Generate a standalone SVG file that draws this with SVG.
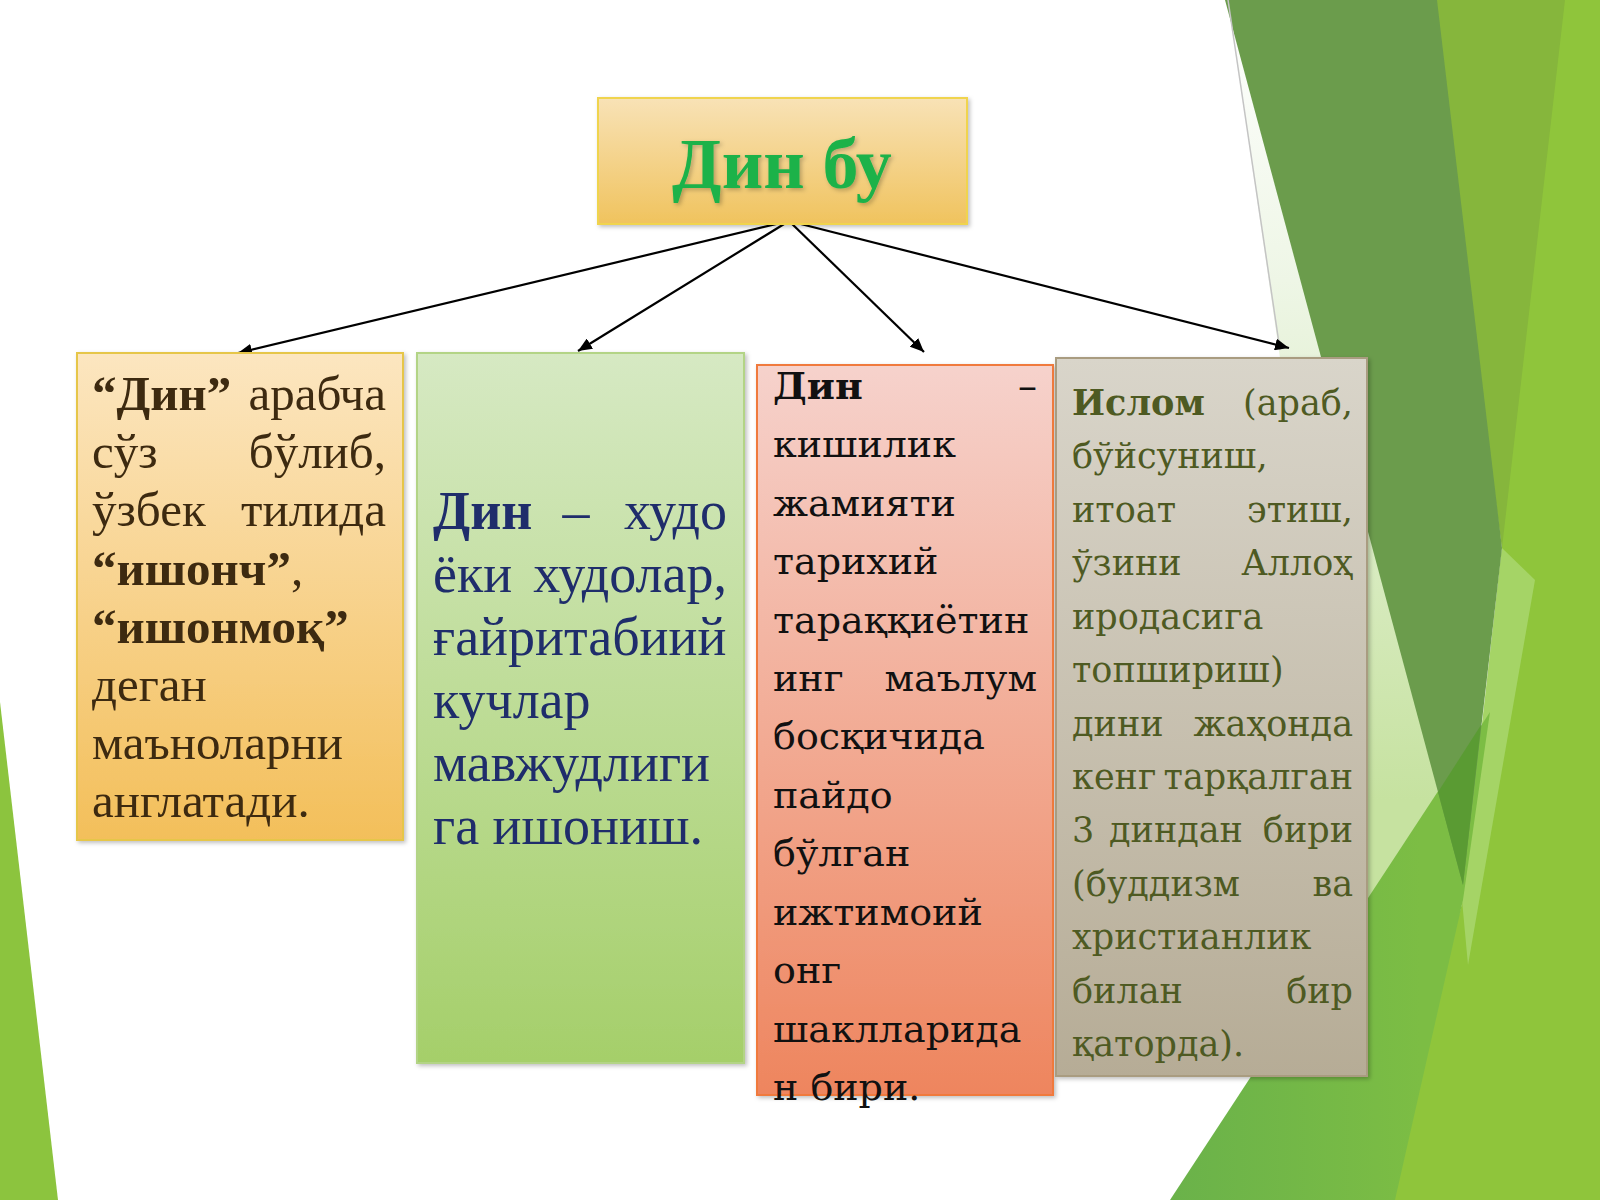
<svg xmlns="http://www.w3.org/2000/svg" width="1600" height="1200" viewBox="0 0 1600 1200">
<defs>
<style>
.b1{font-family:"Liberation Serif",serif;font-size:49px;fill:#3d2a10}
.b2{font-family:"Liberation Serif",serif;font-size:54px;fill:#1f2d6b}
.b3{font-family:"DejaVu Serif",serif;font-size:38px;fill:#111111}
.b4{font-family:"DejaVu Serif",serif;font-size:35px;fill:#4e5a22}
.bold{font-weight:bold}
.end{text-anchor:end}
.mid{text-anchor:middle}
.conn{stroke:#000;stroke-width:2.2;fill:none;marker-end:url(#arr)}
</style>
<marker id="arr" markerUnits="userSpaceOnUse" markerWidth="16" markerHeight="12" refX="14" refY="6" orient="auto">
<path d="M0,0 L14,6 L0,12 z" fill="#000"/>
</marker>
<linearGradient id="gTitle" x1="0" y1="0" x2="0" y2="1">
<stop offset="0" stop-color="#f8e2b6"/><stop offset="1" stop-color="#f0c35e"/>
</linearGradient>
<linearGradient id="g1" x1="0" y1="0" x2="0" y2="1">
<stop offset="0" stop-color="#fce6c0"/><stop offset="1" stop-color="#f3bf5a"/>
</linearGradient>
<linearGradient id="g2" x1="0" y1="0" x2="0" y2="1">
<stop offset="0" stop-color="#d6e9c3"/><stop offset="1" stop-color="#a5cf6a"/>
</linearGradient>
<linearGradient id="g3" x1="0" y1="0" x2="0" y2="1">
<stop offset="0" stop-color="#f6d2cc"/><stop offset="1" stop-color="#ee855e"/>
</linearGradient>
<linearGradient id="g4" x1="0" y1="0" x2="0" y2="1">
<stop offset="0" stop-color="#d9d5ca"/><stop offset="1" stop-color="#b6ac96"/>
</linearGradient>
<linearGradient id="gPale" gradientUnits="userSpaceOnUse" x1="0" y1="0" x2="0" y2="800">
<stop offset="0" stop-color="#ffffff"/><stop offset="0.35" stop-color="#eef6e6"/><stop offset="1" stop-color="#c6e2a0"/>
</linearGradient>
<linearGradient id="gMed" gradientUnits="userSpaceOnUse" x1="1170" y1="0" x2="1420" y2="0">
<stop offset="0" stop-color="#6ab24a"/><stop offset="1" stop-color="#7cbd44"/>
</linearGradient>
<filter id="sh" x="-10%" y="-10%" width="120%" height="120%">
<feDropShadow dx="2" dy="2" stdDeviation="2" flood-color="#000" flood-opacity="0.25"/>
</filter>
</defs>

<g id="background">
<rect x="0" y="0" width="1600" height="1200" fill="#ffffff"/>
<polygon points="0,702 58,1200 0,1200" fill="#8cc43e"/>
<polygon points="1430,0 1600,0 1600,1200 1380,1200 1463,900 1502,548" fill="#8fc53b"/>
<polygon points="1430,0 1565,0 1502,548" fill="#86b63c"/>
<polygon points="1502,548 1535,580 1468,965 1462,900" fill="#a5d466"/>
<polygon points="1228,0 1395,1150 1440,792 1225,0" fill="url(#gPale)"/>
<polygon points="1170,1200 1490,712 1463,900 1395,1200" fill="url(#gMed)"/>
<polygon points="1225,0 1437,0 1502,548 1463,885" fill="#6b9c4c"/>
<polygon points="1438,792 1481,725 1463,885" fill="#5a9b33"/>
<line x1="1228" y1="0" x2="1280" y2="350" stroke="#c4c4c4" stroke-width="1.5"/>
</g>

<g id="connectors">
<line class="conn" x1="789" y1="221" x2="238" y2="353"/>
<line class="conn" x1="789" y1="221" x2="578" y2="351"/>
<line class="conn" x1="789" y1="221" x2="924" y2="352"/>
<line class="conn" x1="789" y1="221" x2="1289" y2="348"/>
</g>

<g id="title">
<rect x="598" y="98" width="369" height="126" fill="url(#gTitle)" stroke="#f0d44e" stroke-width="2" filter="url(#sh)"/>
<text x="782" y="188" class="mid" font-family="Liberation Serif, serif" font-size="72" font-weight="bold" fill="#1fb24a" filter="url(#sh)">Дин бу</text>
</g>

<g id="box1">
<rect x="77" y="353" width="326" height="487" fill="url(#g1)" stroke="#e6c64a" stroke-width="2" filter="url(#sh)"/>
<text class="b1" x="92" y="410"><tspan class="bold">“Дин”</tspan></text>
<text class="b1 end" x="386" y="410">арабча</text>
<text class="b1" x="92" y="468">сўз</text>
<text class="b1 end" x="386" y="468">бўлиб,</text>
<text class="b1" x="92" y="526">ўзбек</text>
<text class="b1 end" x="386" y="526">тилида</text>
<text class="b1" x="92" y="585"><tspan class="bold">“ишонч”</tspan>,</text>
<text class="b1 bold" x="92" y="643">“ишонмоқ”</text>
<text class="b1" x="92" y="701">деган</text>
<text class="b1" x="92" y="759">маъноларни</text>
<text class="b1" x="92" y="817">англатади.</text>
</g>

<g id="box2">
<rect x="417" y="353" width="327" height="710" fill="url(#g2)" stroke="#b3d486" stroke-width="2" filter="url(#sh)"/>
<text class="b2 bold" x="433" y="529">Дин</text>
<text class="b2 mid" x="576" y="529">–</text>
<text class="b2 end" x="727" y="529">худо</text>
<text class="b2" x="433" y="592">ёки</text>
<text class="b2 end" x="727" y="592">худолар,</text>
<text class="b2" x="433" y="655">ғайритабиий</text>
<text class="b2" x="433" y="718">кучлар</text>
<text class="b2" x="433" y="781">мавжудлиги</text>
<text class="b2" x="433" y="844">га ишониш.</text>
</g>

<g id="box3">
<rect x="757" y="365" width="296" height="730" fill="url(#g3)" stroke="#f07a3c" stroke-width="2" filter="url(#sh)"/>
<text class="b3 bold" x="773" y="399">Дин</text>
<text class="b3 end" x="1037" y="399">–</text>
<text class="b3" x="773" y="457">кишилик</text>
<text class="b3" x="773" y="516">жамияти</text>
<text class="b3" x="773" y="574">тарихий</text>
<text class="b3" x="773" y="633">тараққиётин</text>
<text class="b3" x="773" y="691">инг</text>
<text class="b3 end" x="1037" y="691">маълум</text>
<text class="b3" x="773" y="749">босқичида</text>
<text class="b3" x="773" y="808">пайдо</text>
<text class="b3" x="773" y="866">бўлган</text>
<text class="b3" x="773" y="925">ижтимоий</text>
<text class="b3" x="773" y="983">онг</text>
<text class="b3" x="773" y="1042">шаклларида</text>
<text class="b3" x="773" y="1100">н бири.</text>
</g>

<g id="box4">
<rect x="1056" y="358" width="311" height="718" fill="url(#g4)" stroke="#a99c80" stroke-width="2" filter="url(#sh)"/>
<text class="b4 bold" x="1072" y="415" fill="#3e4a12">Ислом</text>
<text class="b4 end" x="1353" y="415">(араб,</text>
<text class="b4" x="1072" y="468">бўйсуниш,</text>
<text class="b4" x="1072" y="522">итоат</text>
<text class="b4 end" x="1353" y="522">этиш,</text>
<text class="b4" x="1072" y="575">ўзини</text>
<text class="b4 end" x="1353" y="575">Аллоҳ</text>
<text class="b4" x="1072" y="629">иродасига</text>
<text class="b4" x="1072" y="682">топшириш)</text>
<text class="b4" x="1072" y="736">дини</text>
<text class="b4 end" x="1353" y="736">жаҳонда</text>
<text class="b4" x="1072" y="789">кенг</text>
<text class="b4 end" x="1353" y="789">тарқалган</text>
<text class="b4" x="1072" y="842">3</text>
<text class="b4" x="1109" y="842">диндан</text>
<text class="b4 end" x="1353" y="842">бири</text>
<text class="b4" x="1072" y="896">(буддизм</text>
<text class="b4 end" x="1353" y="896">ва</text>
<text class="b4" x="1072" y="949">христианлик</text>
<text class="b4" x="1072" y="1003">билан</text>
<text class="b4 end" x="1353" y="1003">бир</text>
<text class="b4" x="1072" y="1056">қаторда).</text>
</g>
</svg>
